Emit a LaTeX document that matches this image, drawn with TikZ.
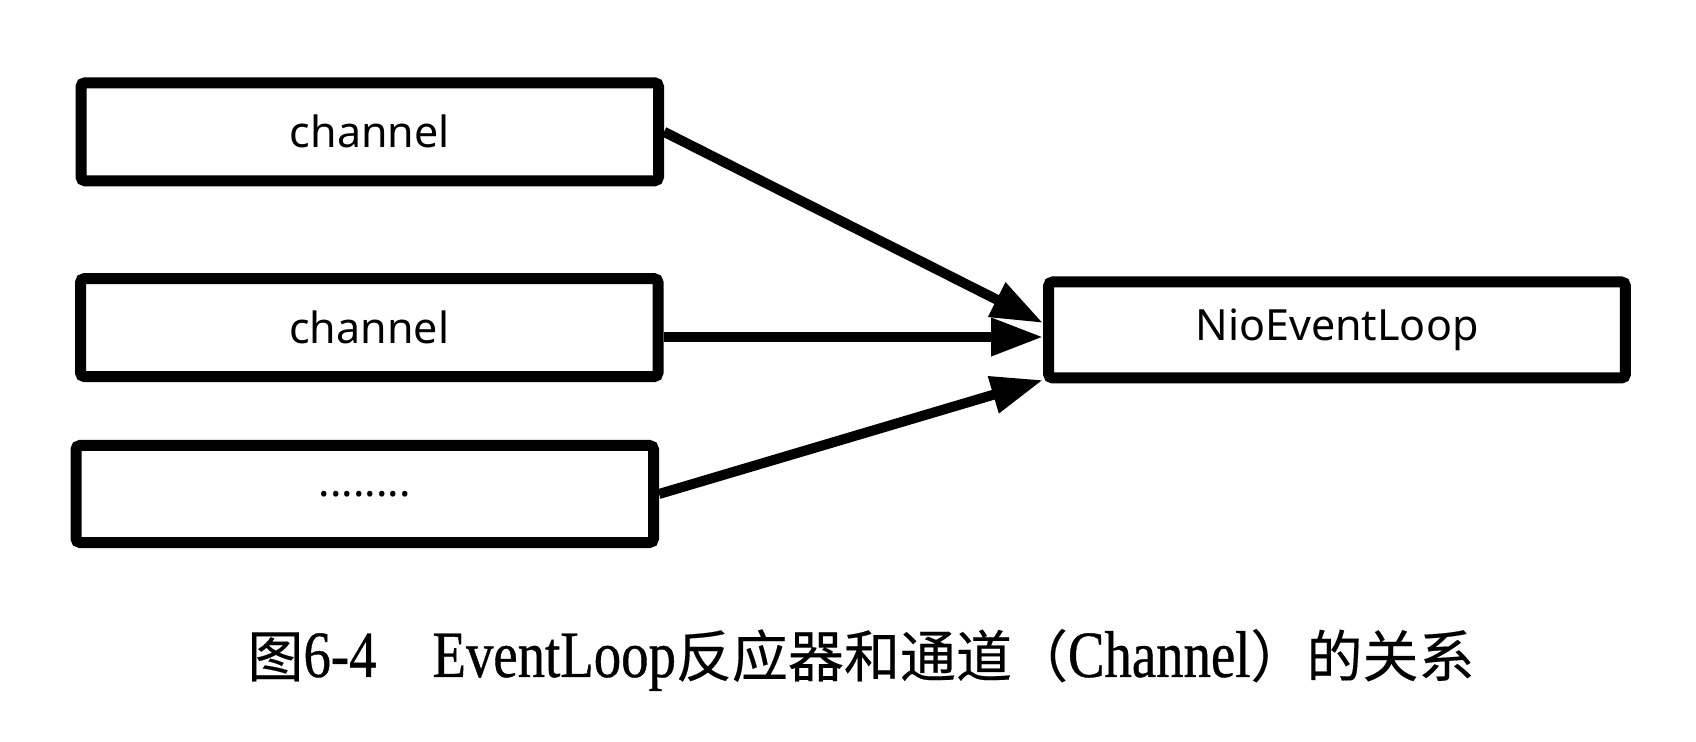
\documentclass[tikz,border=0pt]{standalone}
\usepackage{fontspec}
\setmainfont{Liberation Serif}
\newfontfamily\caplatin[FakeStretch=0.83,FakeBold=0.6]{Liberation Serif}
\newfontfamily\cjk[FakeBold=0.3]{Noto Sans CJK SC}
\newfontfamily\boxfont{Noto Sans}
\usetikzlibrary{arrows.meta}
\begin{document}
\begin{tikzpicture}[x=0.5pt,y=-0.5pt,
  box/.style={draw, line width=5.5pt, minimum width=288.75pt, minimum height=49pt, inner sep=0pt,
    font=\boxfont\fontsize{21.5}{25}\selectfont, rounded corners=2pt},
  link/.style={line width=5pt, -{Triangle[length=26pt,width=18pt]}}]
\useasboundingbox (0,0) rectangle (1696,742);
\node[box] (c1) at (369.75,131.8) {channel};
\node[box] (c2) at (369.25,327.6) {channel};
\node[box, minimum height=48.5pt] (c3) at (364.75,494) {........};
\node[box, minimum width=288.4pt, minimum height=48pt] (nio) at (1337,330) {NioEventLoop};
\draw[link] (c1.east) -- ([yshift=3.5pt]nio.west);
\draw[link] ([yshift=-4.7pt]c2.east) -- ([yshift=-3.5pt]nio.west);
\draw[link] (c3.east) -- ([yshift=-25pt]nio.west);
\node[font=\fontsize{28}{32}\selectfont, inner sep=0pt] (cap) at (861,660)
  {{\cjk 图}{\caplatin\fontsize{33}{36}\selectfont 6-4}{\cjk 　}{\caplatin\fontsize{33}{36}\selectfont EventLoop}{\cjk 反应器和通道（}{\caplatin\fontsize{33}{36}\selectfont Channel}{\cjk ）的关系}};
\end{tikzpicture}
\end{document}
